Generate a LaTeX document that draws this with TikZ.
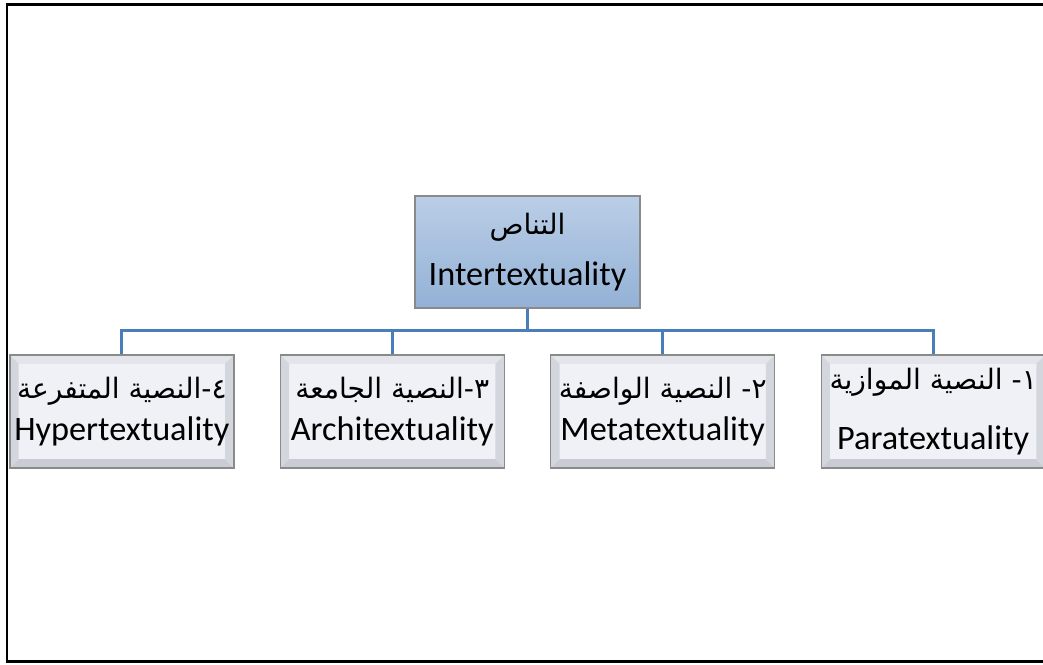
\documentclass[tikz,border=0pt]{standalone}
\usepackage{fontspec}
\setmainfont{Carlito}
\newfontfamily\arfont[Script=Arabic]{DejaVu Sans}
\TeXXeTstate=1
\usetikzlibrary{trees}

\definecolor{linkblue}{HTML}{4A7EBB}
\definecolor{topfill}{HTML}{BACEE6}
\definecolor{topfilldark}{HTML}{93B1D6}
\definecolor{boxedge}{HTML}{8A8A8A}
\definecolor{facefill}{HTML}{EFF1F6}
\definecolor{bevlight}{HTML}{E3E5EB}
\definecolor{bevdark}{HTML}{C9CCD4}

\newcommand{\arline}[1]{{\arfont\fontsize{16}{19}\selectfont\beginR #1\endR}}

\tikzset{
  frame/.style={line width=1.7pt},
  rootbox/.style={draw=boxedge, line width=0.8pt, top color=topfill,
    bottom color=topfilldark, minimum width=4.5cm, minimum height=2.24cm,
    inner sep=1pt},
  kindbox/.style={draw=boxedge, line width=0.8pt, fill=facefill,
    minimum width=4.48cm, minimum height=2.26cm, inner sep=1pt,
    path picture={
      \fill[bevlight] (path picture bounding box.north west)
        -- (path picture bounding box.north east)
        -- ([shift={(-5pt,-5pt)}]path picture bounding box.north east)
        -- ([shift={(5pt,-5pt)}]path picture bounding box.north west) -- cycle;
      \fill[bevdark] (path picture bounding box.south west)
        -- (path picture bounding box.south east)
        -- ([shift={(-5pt,5pt)}]path picture bounding box.south east)
        -- ([shift={(5pt,5pt)}]path picture bounding box.south west) -- cycle;
      \fill[bevdark!60!bevlight] (path picture bounding box.north west)
        -- ([shift={(5pt,-5pt)}]path picture bounding box.north west)
        -- ([shift={(5pt,5pt)}]path picture bounding box.south west)
        -- (path picture bounding box.south west) -- cycle;
      \fill[bevdark!60!bevlight] (path picture bounding box.north east)
        -- ([shift={(-5pt,-5pt)}]path picture bounding box.north east)
        -- ([shift={(-5pt,5pt)}]path picture bounding box.south east)
        -- (path picture bounding box.south east) -- cycle;
    }}
}

\begin{document}
\begin{tikzpicture}[x=0.02cm, y=-0.02cm,
  level distance=3.19cm, sibling distance=5.41cm,
  every node/.style={align=center, font=\fontsize{19.5}{23}\selectfont},
  edge from parent/.style={draw=linkblue, line width=1.6pt},
  edge from parent path={(\tikzparentnode.south) -- +(0pt,-0.44cm) -| (\tikzchildnode.north)}]
  \useasboundingbox (0,0) rectangle (1043,664);
  \draw[frame] (1043,4) -- (7,4) -- (7,661) -- (1043,661);
  \node[rootbox] (inter) at (527.5,252) {\arline{التناص}\\[6pt] Intertextuality}
  child { node[kindbox] (hyper) {\arline{٤-النصية المتفرعة}\\[1pt] Hypertextuality} }
  child { node[kindbox] (archi) {\arline{٣-النصية الجامعة}\\[1pt] Architextuality} }
  child { node[kindbox] (meta) {\arline{٢- النصية الواصفة}\\[1pt] Metatextuality} }
  child { node[kindbox] (para) {\arline{١- النصية الموازية}\\[11pt] Paratextuality} };
\end{tikzpicture}
\end{document}
